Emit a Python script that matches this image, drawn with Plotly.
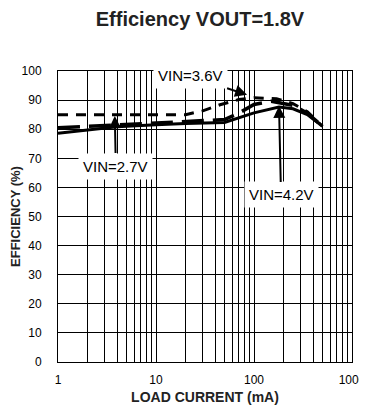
import math
import plotly.graph_objects as go

# load current (mA) / efficiency (%)
iout_27 = [1, 20, 30, 45, 70, 100, 170, 250, 350, 500]
eff_27 = [85, 85, 86.3, 88.4, 90.2, 90.8, 90.5, 88.8, 86, 81]

iout_36 = [1, 4, 10, 20, 40, 50, 70, 100, 150, 250, 350, 500]
eff_36 = [80.5, 81.5, 82.2, 82.7, 83, 83.3, 85.5, 88.5, 89.6, 88.2, 85.5, 81]

iout_42 = [1, 4, 10, 20, 50, 100, 180, 250, 350, 500]
eff_42 = [78.6, 80.8, 81.5, 82, 82.3, 85.6, 87.6, 87, 85, 81]

# log grid: every digit in each decade, labels only on decades
x_grid = [m * 10 ** d for d in range(3) for m in range(1, 10)] + [1000]
x_text = [str(v) if v in (1, 10, 100, 1000) else '' for v in x_grid]
y_ticks = list(range(0, 101, 10))

FONT = 'Liberation Sans, Arial, sans-serif'

# page body has an 8px margin; keep the figure inside the window
W, H = 359, 397

fig = go.Figure()
fig.add_trace(go.Scatter(x=iout_27, y=eff_27, mode='lines', name='VIN=2.7V',
                         line=dict(color='black', width=3, dash='10px,8px')))
fig.add_trace(go.Scatter(x=iout_36, y=eff_36, mode='lines', name='VIN=3.6V',
                         line=dict(color='black', width=3.5, dash='22px,9px')))
fig.add_trace(go.Scatter(x=iout_42, y=eff_42, mode='lines', name='VIN=4.2V',
                         line=dict(color='black', width=3)))

# arrow labels (x in log10 units for log axis)
labels = [
    ('VIN=2.7V', 3.8, 84.5, 1, 50),
    ('VIN=3.6V', 85, 91.8, -57, -19),
    ('VIN=4.2V', 180, 88.0, 2, 89),
]
for text, x, y, ax, ay in labels:
    fig.add_annotation(x=math.log10(x), y=y, text=text, ax=ax, ay=ay,
                       showarrow=True, arrowhead=2, arrowsize=1.2, arrowwidth=2,
                       arrowcolor='black', bgcolor='white', borderpad=4,
                       font=dict(family=FONT, size=15, color='black'))

fig.update_layout(
    width=W, height=H,
    margin=dict(l=50, r=15, t=63, b=43, autoexpand=False),
    paper_bgcolor='white', plot_bgcolor='white',
    showlegend=False,
    font=dict(family=FONT, size=12, color='black'),
    title=dict(text='<b>Efficiency VOUT=1.8V</b>', x=192 / W, xanchor='center',
               y=1 - 11 / H, yanchor='middle', yref='container',
               font=dict(family=FONT, size=20, color='#222')),
)
fig.update_xaxes(
    type='log', range=[0, 3], automargin=False,
    tickvals=x_grid, ticktext=x_text, ticks='', ticklabelstandoff=7,
    ticklabeloverflow='allow',
    showgrid=True, gridcolor='black', gridwidth=1,
    showline=True, linecolor='black', linewidth=1, mirror=True,
    zeroline=False,
    title=dict(text='<b>LOAD CURRENT (mA)</b>', standoff=6,
               font=dict(family=FONT, size=14, color='#222')),
)
fig.update_yaxes(
    range=[0, 100], tickvals=y_ticks, ticks='', ticklabelstandoff=13,
    showgrid=True, gridcolor='black', gridwidth=1, automargin=False,
    showline=True, linecolor='black', linewidth=1, mirror=True,
    zeroline=False,
    title=dict(text='<b>EFFICIENCY (%)</b>', standoff=4,
               font=dict(family=FONT, size=13, color='#222')),
)

fig.write_html('out.html')
